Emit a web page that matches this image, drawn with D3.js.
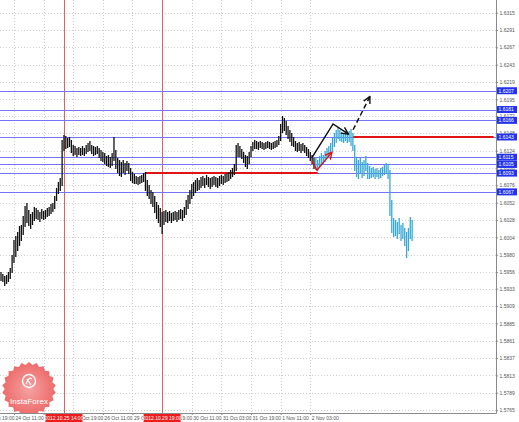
<!DOCTYPE html>
<html><head><meta charset="utf-8">
<script src="https://cdn.jsdelivr.net/npm/d3@7"></script>
<style>html,body{margin:0;padding:0;background:#fff;} svg{display:block;}</style>
</head><body><svg id="c" width="519" height="422"></svg>
<script>
// ---------- DATA ----------
const highs = [
1.5956,1.5953,1.5951,1.5952,1.5956,1.5962,1.5980,1.6000,1.6006,1.6012,
1.6020,1.6021,1.6034,1.6048,1.6052,1.6042,1.6036,1.6039,1.6046,1.6045,
1.6042,1.6039,1.6043,1.6041,1.6042,1.6045,1.6046,1.6050,1.6052,1.6061,
1.6072,1.6081,1.6086,1.6139,1.6146,1.6144,1.6142,1.6143,1.6139,1.6132,
1.6131,1.6128,1.6129,1.6128,1.6131,1.6128,1.6132,1.6135,1.6137,1.6132,
1.6131,1.6129,1.6131,1.6128,1.6125,1.6122,1.6121,1.6117,1.6118,1.6115,
1.6121,1.6143,1.6125,1.6114,1.6111,1.6108,1.6111,1.6107,1.6110,1.6107,
1.6100,1.6094,1.6092,1.6089,1.6088,1.6089,1.6090,1.6093,1.6094,1.6083,
1.6077,1.6070,1.6067,1.6061,1.6053,1.6049,1.6045,1.6039,1.6041,1.6042,
1.6039,1.6041,1.6038,1.6039,1.6041,1.6039,1.6042,1.6043,1.6042,1.6046,
1.6056,1.6063,1.6070,1.6078,1.6081,1.6083,1.6086,1.6083,1.6088,1.6089,
1.6086,1.6090,1.6088,1.6086,1.6088,1.6089,1.6088,1.6086,1.6089,1.6090,
1.6089,1.6092,1.6093,1.6094,1.6097,1.6100,1.6106,1.6132,1.6135,1.6131,
1.6126,1.6122,1.6118,1.6117,1.6122,1.6131,1.6136,1.6139,1.6137,1.6136,
1.6137,1.6136,1.6135,1.6136,1.6137,1.6136,1.6135,1.6136,1.6137,1.6139,
1.6144,1.6161,1.6172,1.6169,1.6165,1.6158,1.6153,1.6149,1.6143,1.6137,
1.6135,1.6136,1.6133,1.6135,1.6132,1.6129,1.6126,1.6122,1.6118,1.6114,
1.6114,1.6111,1.6117,1.6121,1.6118,1.6124,1.6128,1.6131,1.6135,1.6142,
1.6149,1.6153,1.6157,1.6153,1.6150,1.6149,1.6151,1.6149,1.6151,1.6154,
1.6149,1.6132,1.6114,1.6111,1.6115,1.6108,1.6111,1.6117,1.6107,1.6103,
1.6100,1.6101,1.6099,1.6100,1.6097,1.6100,1.6101,1.6104,1.6107,1.6106,
1.6097,1.6056,1.6031,1.6028,1.6025,1.6031,1.6021,1.6024,1.6017,1.6012,
1.6017,1.6032,1.6028
];
const lows = [
1.5945,1.5943,1.5938,1.5941,1.5944,1.5948,1.5956,1.5970,1.5978,1.5987,
1.5993,1.6000,1.6009,1.6020,1.6025,1.6021,1.6017,1.6022,1.6028,1.6031,
1.6029,1.6027,1.6031,1.6029,1.6031,1.6034,1.6035,1.6038,1.6041,1.6045,
1.6056,1.6066,1.6070,1.6077,1.6125,1.6128,1.6129,1.6131,1.6122,1.6118,
1.6119,1.6117,1.6119,1.6118,1.6119,1.6118,1.6121,1.6124,1.6125,1.6121,
1.6118,1.6119,1.6121,1.6115,1.6111,1.6110,1.6107,1.6104,1.6103,1.6101,
1.6104,1.6111,1.6100,1.6094,1.6090,1.6089,1.6094,1.6092,1.6097,1.6093,
1.6083,1.6081,1.6079,1.6079,1.6078,1.6079,1.6081,1.6082,1.6070,1.6063,
1.6059,1.6052,1.6048,1.6039,1.6031,1.6025,1.6020,1.6010,1.6022,1.6027,
1.6025,1.6028,1.6025,1.6028,1.6029,1.6027,1.6029,1.6031,1.6028,1.6032,
1.6036,1.6045,1.6052,1.6059,1.6063,1.6067,1.6070,1.6071,1.6074,1.6077,
1.6074,1.6078,1.6075,1.6072,1.6075,1.6078,1.6075,1.6074,1.6077,1.6079,
1.6078,1.6081,1.6082,1.6083,1.6086,1.6089,1.6092,1.6097,1.6117,1.6117,
1.6114,1.6108,1.6103,1.6100,1.6107,1.6117,1.6125,1.6128,1.6128,1.6126,
1.6129,1.6128,1.6126,1.6128,1.6129,1.6128,1.6126,1.6128,1.6129,1.6131,
1.6133,1.6139,1.6150,1.6153,1.6147,1.6142,1.6137,1.6132,1.6131,1.6125,
1.6124,1.6125,1.6122,1.6125,1.6122,1.6118,1.6115,1.6111,1.6107,1.6100,
1.6099,1.6097,1.6103,1.6106,1.6107,1.6110,1.6114,1.6117,1.6121,1.6125,
1.6131,1.6136,1.6142,1.6139,1.6137,1.6136,1.6139,1.6136,1.6137,1.6132,
1.6125,1.6097,1.6089,1.6086,1.6094,1.6088,1.6090,1.6097,1.6086,1.6086,
1.6088,1.6089,1.6086,1.6089,1.6086,1.6088,1.6090,1.6092,1.6094,1.6086,
1.6035,1.6012,1.6006,1.6007,1.6003,1.6010,1.6000,1.6003,1.5993,1.5977,
1.5987,1.6003,1.6000
];
const laterStartBar = 170;   // bars from here on are drawn in cyan

const priceTicks = [1.6315,1.6291,1.6267,1.6243,1.6219,1.6195,1.6172,1.6148,1.6124,1.6100,
  1.6076,1.6052,1.6028,1.6004,1.5980,1.5956,1.5933,1.5909,1.5885,1.5861,1.5837,1.5813,1.5789,1.5765];

const levelPrices = [1.6207,1.6181,1.6166,1.6143,1.6115,1.6105,1.6093,1.6067];

const timeLabelBars = [-9,7,23,39,55,71,87,103,119,135,151,167];
const timeLabels = ["23 Oct 19:00","24 Oct 11:00","25 Oct 03:00","25 Oct 19:00","26 Oct 11:00",
  "29 Oct 03:00","29 Oct 19:00","30 Oct 11:00","31 Oct 03:00","31 Oct 19:00","1 Nov 11:00","2 Nov 03:00"];

const vLineBars = [34, 87];
const vLineLabels = ["2012.10.25 14:00","2012.10.29 19:00"];

const redLevelPrices = [1.6093, 1.6143];
const redLevelFrom = [78, 190];
const redLevelTo = [171, 266];

const blackArrow = [[167.8,1.6114],[179.3,1.6161],[187.6,1.6147]];
const dashedArrow = [[190.1,1.6153],[199.2,1.6199]];
const redArrow = [[167.9,1.6110],[170.6,1.6097],[178.7,1.6122]];

// ---------- CHART ----------
const W=519, H=422, plotRight=496, plotBottom=413;
const svg = d3.select('#c');
svg.append('rect').attr('width',W).attr('height',H).attr('fill','#ffffff');

const x = d3.scaleLinear().domain([0,267]).range([1, 1+267*1.852]);
const y = d3.scaleLinear().domain([1.5765,1.6315]).range([410.1,12.7]);
const sx = v => Math.round(x(v))+0.5;
const sy = v => Math.round(y(v))+0.5;
const FONT = '"Liberation Sans", Arial, sans-serif';

const defs = svg.append('defs');
defs.append('clipPath').attr('id','plotclip').append('rect')
  .attr('x',0).attr('y',0).attr('width',plotRight).attr('height',plotBottom);
function marker(id,color){
  defs.append('marker').attr('id',id).attr('markerUnits','userSpaceOnUse')
    .attr('viewBox','0 0 8 8').attr('markerWidth',8).attr('markerHeight',8)
    .attr('refX',7).attr('refY',4).attr('orient','auto')
    .append('path').attr('d','M0,0.5 L7,4 L0,7.5').attr('fill','none')
    .attr('stroke',color).attr('stroke-width',1.4);
}
marker('mBlack','#111');
marker('mRed','#e01010');
const rg = defs.append('radialGradient').attr('id','badge');
rg.append('stop').attr('offset','0%').attr('stop-color','#f59a9a');
rg.append('stop').attr('offset','100%').attr('stop-color','#ec5d5d');

const plot = svg.append('g').attr('clip-path','url(#plotclip)');

// grid
plot.append('g').selectAll('line').data(priceTicks).join('line')
  .attr('x1',0).attr('x2',plotRight).attr('y1',d=>sy(d)).attr('y2',d=>sy(d))
  .attr('stroke','#cdcdcd').attr('stroke-dasharray','1,2');
plot.append('g').selectAll('line').data(timeLabelBars).join('line')
  .attr('x1',d=>sx(d)).attr('x2',d=>sx(d)).attr('y1',0).attr('y2',plotBottom)
  .attr('stroke','#cdcdcd').attr('stroke-dasharray','1,2');

// vertical time lines
plot.append('g').selectAll('line').data(vLineBars).join('line')
  .attr('x1',d=>sx(d)).attr('x2',d=>sx(d)).attr('y1',0).attr('y2',plotBottom)
  .attr('stroke','#e06060').attr('stroke-width',1);

// level lines
plot.append('g').selectAll('line').data(levelPrices).join('line')
  .attr('x1',0).attr('x2',plotRight).attr('y1',d=>sy(d)).attr('y2',d=>sy(d))
  .attr('stroke','#7474f4').attr('stroke-width',1);

// red level segments
plot.append('g').selectAll('line').data(redLevelPrices).join('line')
  .attr('x1',(d,i)=>x(redLevelFrom[i])).attr('x2',(d,i)=>x(redLevelTo[i]))
  .attr('y1',d=>Math.round(y(d))).attr('y2',d=>Math.round(y(d)))
  .attr('stroke','#e01414').attr('stroke-width',2);

// bars
const bars = highs.map((h,i)=>({i, h, l: lows[i]}));
plot.append('g').selectAll('line').data(bars).join('line')
  .attr('x1',d=>x(d.i)).attr('x2',d=>x(d.i))
  .attr('y1',d=>Math.round(y(d.h))).attr('y2',d=>Math.round(y(d.l))+1)
  .attr('stroke',d=>d.i>=laterStartBar?'#36a9d6':'#111')
  .attr('stroke-width',1.3);

// arrows
const line = d3.line().x(d=>x(d[0])).y(d=>y(d[1]));
plot.append('path').attr('d',line(redArrow)).attr('fill','none')
  .attr('stroke','#e01010').attr('stroke-width',1.3).attr('marker-end','url(#mRed)');
plot.append('path').attr('d',line(blackArrow)).attr('fill','none')
  .attr('stroke','#111').attr('stroke-width',1.5).attr('marker-end','url(#mBlack)');
plot.append('path').attr('d',line(dashedArrow)).attr('fill','none')
  .attr('stroke','#111').attr('stroke-width',1.5).attr('stroke-dasharray','5,3')
  .attr('marker-end','url(#mBlack)');

// InstaForex badge
const logo = plot.append('g');
const cx=29, cy=389, n=22, R=27, r=24.3;
const pts=[];
for(let k=0;k<2*n;k++){const a=Math.PI*k/n-Math.PI/2; const rr=k%2?r:R; pts.push([cx+rr*Math.cos(a), cy+rr*Math.sin(a)]);}
logo.append('path').attr('d','M'+pts.map(p=>p.join(',')).join('L')+'Z')
  .attr('fill','url(#badge)').attr('opacity',0.92);
logo.append('circle').attr('cx',cx).attr('cy',381).attr('r',6.5)
  .attr('fill','none').attr('stroke','#fff').attr('stroke-width',1.4);
logo.append('path').attr('d',`M${cx-3},${384} Q${cx},${376} ${cx+3},${379} M${cx-2},${379} L${cx+2},${385}`)
  .attr('fill','none').attr('stroke','#fff').attr('stroke-width',1.2);
logo.append('text').attr('x',cx).attr('y',404).attr('text-anchor','middle')
  .attr('font-family',FONT).attr('font-size',8).attr('fill','#fff').text('InstaForex');

// right price axis
const ay = svg.append('g').attr('transform',`translate(${plotRight},0)`)
  .call(d3.axisRight(y).tickValues(priceTicks).tickSize(2).tickPadding(1.5).tickFormat(d3.format('.4f')));
ay.select('.domain').remove();
ay.selectAll('.tick line').attr('stroke','#888');
ay.selectAll('text').attr('font-family',FONT).attr('font-size',5).attr('fill','#555');
svg.append('line').attr('x1',plotRight+0.5).attr('x2',plotRight+0.5).attr('y1',0).attr('y2',plotBottom+0.5)
  .attr('stroke','#8a8a8a');

// level label boxes
const lb = svg.append('g').selectAll('g').data(levelPrices).join('g');
lb.append('rect').attr('x',plotRight+1).attr('y',d=>y(d)-3.5).attr('width',20).attr('height',7)
  .attr('fill','#2233ee');
lb.append('text').attr('x',plotRight+2.5).attr('y',d=>y(d)+1.8)
  .attr('font-family',FONT).attr('font-size',5).attr('fill','#fff').text(d=>d.toFixed(4));

// bottom time axis
const ax = svg.append('g').attr('transform',`translate(0,${plotBottom})`)
  .call(d3.axisBottom(x).tickValues(timeLabelBars).tickSize(2).tickPadding(1.5)
    .tickFormat((d,i)=>timeLabels[i]));
ax.select('.domain').remove();
ax.selectAll('.tick line').attr('stroke','#888');
ax.selectAll('text').attr('text-anchor','start').attr('dx',1)
  .attr('font-family',FONT).attr('font-size',5).attr('fill','#555');
svg.append('line').attr('x1',0).attr('x2',plotRight+0.5).attr('y1',plotBottom+0.5).attr('y2',plotBottom+0.5)
  .attr('stroke','#8a8a8a');

// vertical line time boxes
const tb = svg.append('g').selectAll('g').data(vLineBars).join('g');
tb.append('rect').attr('x',d=>x(d)-18.5).attr('y',plotBottom+1).attr('width',37).attr('height',8)
  .attr('fill','#ee1c1c');
tb.append('text').attr('x',d=>x(d)).attr('y',plotBottom+7).attr('text-anchor','middle')
  .attr('font-family',FONT).attr('font-size',5).attr('fill','#fff').text((d,i)=>vLineLabels[i]);
</script>
</body></html>
